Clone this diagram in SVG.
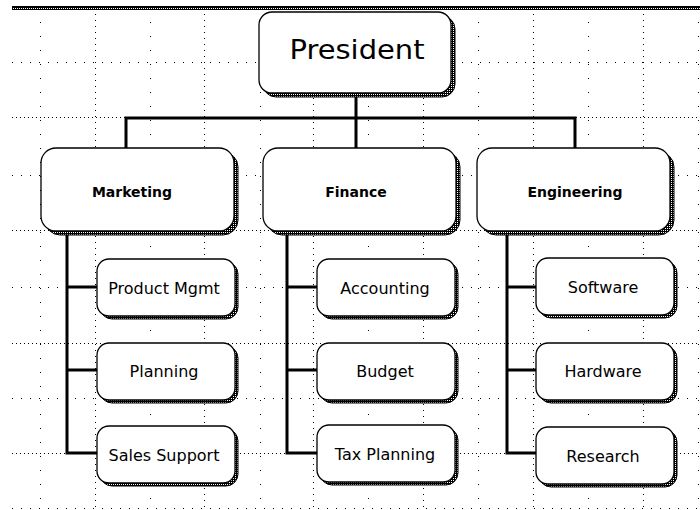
<svg xmlns="http://www.w3.org/2000/svg" width="700" height="510" viewBox="0 0 700 510">
  <defs>
    <pattern id="dither" width="2" height="2" patternUnits="userSpaceOnUse">
      <rect width="2" height="2" fill="#000"/>
      <rect x="1" y="0" width="1" height="1" fill="#fff"/>
    </pattern>
  </defs>
  <style>
    .gmaj { stroke:#000; stroke-width:1; stroke-dasharray:1 3; shape-rendering:crispEdges; }
    .gmin { stroke:#000; stroke-width:1; stroke-dasharray:1 8; shape-rendering:crispEdges; }
    .vmaj { stroke:#000; stroke-width:1; stroke-dasharray:1 5; shape-rendering:crispEdges; }
    .vmin { stroke:#000; stroke-width:1; stroke-dasharray:1 13; shape-rendering:crispEdges; }
    .shadow { fill:url(#dither); stroke:#000; stroke-width:1; }
    .box { fill:#fff; stroke:#000; stroke-width:1.3; }
    .conn { stroke:#000; stroke-width:3; fill:none; stroke-linecap:square; }
    .t1 { font-family:"DejaVu Sans", sans-serif; font-size:26px; fill:#000; text-anchor:middle; dominant-baseline:central; }
    .t2 { font-family:"DejaVu Sans", sans-serif; font-weight:bold; font-size:14px; fill:#000; text-anchor:middle; dominant-baseline:central; }
    .t3 { font-family:"DejaVu Sans", sans-serif; font-size:16px; fill:#000; text-anchor:middle; dominant-baseline:central; }
  </style>
  <rect width="700" height="510" fill="#fff"/>
  <!-- top border -->
  <rect x="12" y="6" width="688" height="4" fill="url(#dither)"/>
  <line x1="12" y1="6.5" x2="700" y2="6.5" stroke="#000" stroke-width="1"/>
  <!-- grid -->
  <g id="grid">
    <line class="vmin" x1="40.5" y1="22" x2="40.5" y2="510"/>
    <line class="vmaj" x1="95.5" y1="14" x2="95.5" y2="510"/>
    <line class="vmin" x1="150.5" y1="22" x2="150.5" y2="510"/>
    <line class="vmaj" x1="204.5" y1="14" x2="204.5" y2="510"/>
    <line class="vmin" x1="260.5" y1="22" x2="260.5" y2="510"/>
    <line class="vmaj" x1="313.5" y1="14" x2="313.5" y2="510"/>
    <line class="vmin" x1="368.5" y1="22" x2="368.5" y2="510"/>
    <line class="vmaj" x1="423.5" y1="14" x2="423.5" y2="510"/>
    <line class="vmin" x1="478.5" y1="22" x2="478.5" y2="510"/>
    <line class="vmaj" x1="533.5" y1="14" x2="533.5" y2="510"/>
    <line class="vmin" x1="588.5" y1="22" x2="588.5" y2="510"/>
    <line class="vmaj" x1="643.5" y1="14" x2="643.5" y2="510"/>
    <line class="vmin" x1="698.5" y1="22" x2="698.5" y2="510"/>
    <line class="gmin" x1="12" y1="62.5" x2="700" y2="62.5"/>
    <line class="gmaj" x1="12" y1="117.5" x2="700" y2="117.5"/>
    <line class="gmin" x1="12" y1="175.5" x2="700" y2="175.5"/>
    <line class="gmaj" x1="12" y1="230.5" x2="700" y2="230.5"/>
    <line class="gmin" x1="12" y1="287.5" x2="700" y2="287.5"/>
    <line class="gmaj" x1="12" y1="343.5" x2="700" y2="343.5"/>
    <line class="gmin" x1="12" y1="398.5" x2="700" y2="398.5"/>
    <line class="gmaj" x1="12" y1="453.5" x2="700" y2="453.5"/>
    <line class="gmin" x1="12" y1="508.5" x2="700" y2="508.5"/>
  </g>
  <!-- connectors -->
  <g id="connectors">
    <path class="conn" d="M356 95 V118 M126 118 H575 M126 118 V148 M356 118 V148 M575 118 V148"/>
    <path class="conn" d="M67 234 V453 M67 287 H97 M67 370 H97 M67 453 H97"/>
    <path class="conn" d="M287 234 V453 M287 287 H317 M287 370 H317 M287 453 H317"/>
    <path class="conn" d="M507 234 V453 M507 287 H536 M507 370 H536 M507 453 H536"/>
  </g>
  <!-- nodes -->
  <g id="president">
    <rect class="shadow" x="263" y="16" width="192" height="81" rx="13"/>
    <rect class="box" x="259" y="12" width="192" height="81" rx="13"/>
    <text class="t1" x="357" y="50" textLength="135" lengthAdjust="spacingAndGlyphs">President</text>
  </g>
  <g id="marketing">
    <rect class="shadow" x="45" y="152" width="193" height="83" rx="15"/>
    <rect class="box" x="41" y="148" width="193" height="83" rx="15"/>
    <text class="t2" x="132" y="192">Marketing</text>
  </g>
  <g id="finance">
    <rect class="shadow" x="267" y="152" width="193" height="83" rx="15"/>
    <rect class="box" x="263" y="148" width="193" height="83" rx="15"/>
    <text class="t2" x="356" y="192">Finance</text>
  </g>
  <g id="engineering">
    <rect class="shadow" x="481" y="152" width="193" height="83" rx="15"/>
    <rect class="box" x="477" y="148" width="193" height="83" rx="15"/>
    <text class="t2" x="575" y="192">Engineering</text>
  </g>
  <g id="product-mgmt">
    <rect class="shadow" x="100" y="262" width="138" height="57" rx="12"/>
    <rect class="box" x="97" y="259" width="138" height="57" rx="12"/>
    <text class="t3" x="164" y="288">Product Mgmt</text>
  </g>
  <g id="planning">
    <rect class="shadow" x="100" y="346" width="138" height="57" rx="12"/>
    <rect class="box" x="97" y="343" width="138" height="57" rx="12"/>
    <text class="t3" x="164" y="371">Planning</text>
  </g>
  <g id="sales-support">
    <rect class="shadow" x="100" y="429" width="138" height="57" rx="12"/>
    <rect class="box" x="97" y="426" width="138" height="57" rx="12"/>
    <text class="t3" x="164" y="455">Sales Support</text>
  </g>
  <g id="accounting">
    <rect class="shadow" x="320" y="262" width="138" height="57" rx="12"/>
    <rect class="box" x="317" y="259" width="138" height="57" rx="12"/>
    <text class="t3" x="385" y="288">Accounting</text>
  </g>
  <g id="budget">
    <rect class="shadow" x="320" y="346" width="138" height="57" rx="12"/>
    <rect class="box" x="317" y="343" width="138" height="57" rx="12"/>
    <text class="t3" x="385" y="371">Budget</text>
  </g>
  <g id="tax-planning">
    <rect class="shadow" x="320" y="428" width="138" height="57" rx="12"/>
    <rect class="box" x="317" y="425" width="138" height="57" rx="12"/>
    <text class="t3" x="385" y="454">Tax Planning</text>
  </g>
  <g id="software">
    <rect class="shadow" x="539" y="261" width="138" height="57" rx="12"/>
    <rect class="box" x="536" y="258" width="138" height="57" rx="12"/>
    <text class="t3" x="603" y="287">Software</text>
  </g>
  <g id="hardware">
    <rect class="shadow" x="539" y="346" width="138" height="57" rx="12"/>
    <rect class="box" x="536" y="343" width="138" height="57" rx="12"/>
    <text class="t3" x="603" y="371">Hardware</text>
  </g>
  <g id="research">
    <rect class="shadow" x="539" y="430" width="138" height="57" rx="12"/>
    <rect class="box" x="536" y="427" width="138" height="57" rx="12"/>
    <text class="t3" x="603" y="456">Research</text>
  </g>
</svg>
